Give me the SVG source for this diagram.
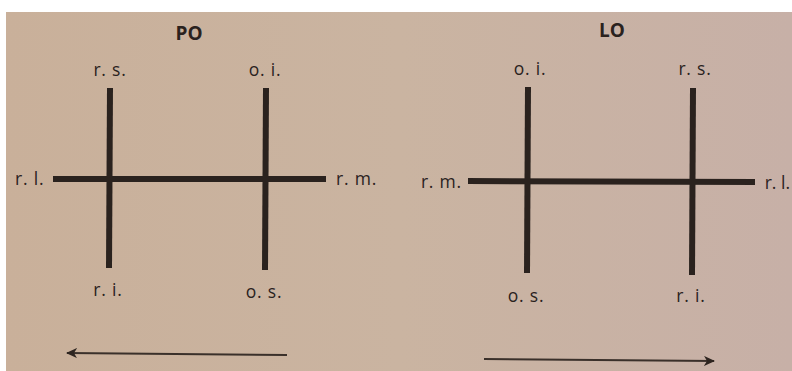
<svg xmlns="http://www.w3.org/2000/svg" width="792" height="371" viewBox="0 0 792 371">
  <defs>
    <linearGradient id="paper" x1="0" y1="0" x2="1" y2="0">
      <stop offset="0" stop-color="#c9b09a"/>
      <stop offset="0.5" stop-color="#cab4a1"/>
      <stop offset="1" stop-color="#c7b0a7"/>
    </linearGradient>
    <marker id="head" markerWidth="12" markerHeight="10" refX="10" refY="5" orient="auto" markerUnits="userSpaceOnUse">
      <path d="M0,0 L11,5 L0,10 L3,5 Z" fill="#2e2520"/>
    </marker>
  </defs>
  <style>
    .lbl { font-family: "Open Sans", "Noto Sans", "DejaVu Sans", sans-serif; font-size: 17.5px; letter-spacing: 0.8px; fill: #2a221e; }
    .ttl { font-family: "Open Sans", "Noto Sans", "DejaVu Sans", sans-serif; font-size: 19px; font-weight: bold; fill: #2a221e; }
    .bar { stroke: #2a221e; stroke-width: 6; fill: none; }
    .arr { stroke: #3a302a; stroke-width: 2; fill: none; }
  </style>
  <rect x="0" y="0" width="792" height="371" fill="#ffffff"/>
  <rect x="6" y="12" width="786" height="359" fill="url(#paper)"/>

  <g id="PO">
    <text class="ttl" x="189" y="40" text-anchor="middle">PO</text>
    <line class="bar" x1="53" y1="179" x2="326" y2="179"/>
    <line class="bar" x1="110" y1="88" x2="109" y2="268"/>
    <line class="bar" x1="266" y1="88" x2="265" y2="270"/>
    <text class="lbl" x="110" y="76" text-anchor="middle">r. s.</text>
    <text class="lbl" x="265" y="76" text-anchor="middle">o. i.</text>
    <text class="lbl" x="15" y="185">r. l.</text>
    <text class="lbl" x="336" y="185">r. m.</text>
    <text class="lbl" x="108" y="296" text-anchor="middle">r. i.</text>
    <text class="lbl" x="264" y="298" text-anchor="middle">o. s.</text>
  </g>

  <g id="LO">
    <text class="ttl" x="612" y="37" text-anchor="middle">LO</text>
    <line class="bar" x1="468" y1="181" x2="755" y2="182"/>
    <line class="bar" x1="528" y1="87" x2="527" y2="273"/>
    <line class="bar" x1="693" y1="88" x2="692" y2="275"/>
    <text class="lbl" x="530" y="75" text-anchor="middle">o. i.</text>
    <text class="lbl" x="695" y="75" text-anchor="middle">r. s.</text>
    <text class="lbl" x="462" y="188" text-anchor="end">r. m.</text>
    <text class="lbl" x="790" y="189" text-anchor="end" style="letter-spacing:0">r. l.</text>
    <text class="lbl" x="526" y="302" text-anchor="middle">o. s.</text>
    <text class="lbl" x="691" y="302" text-anchor="middle">r. i.</text>
  </g>

  <g id="connectors">
    <line class="arr" x1="287" y1="355" x2="67" y2="353" marker-end="url(#head)"/>
    <line class="arr" x1="484" y1="359" x2="714" y2="361" marker-end="url(#head)"/>
  </g>
</svg>
